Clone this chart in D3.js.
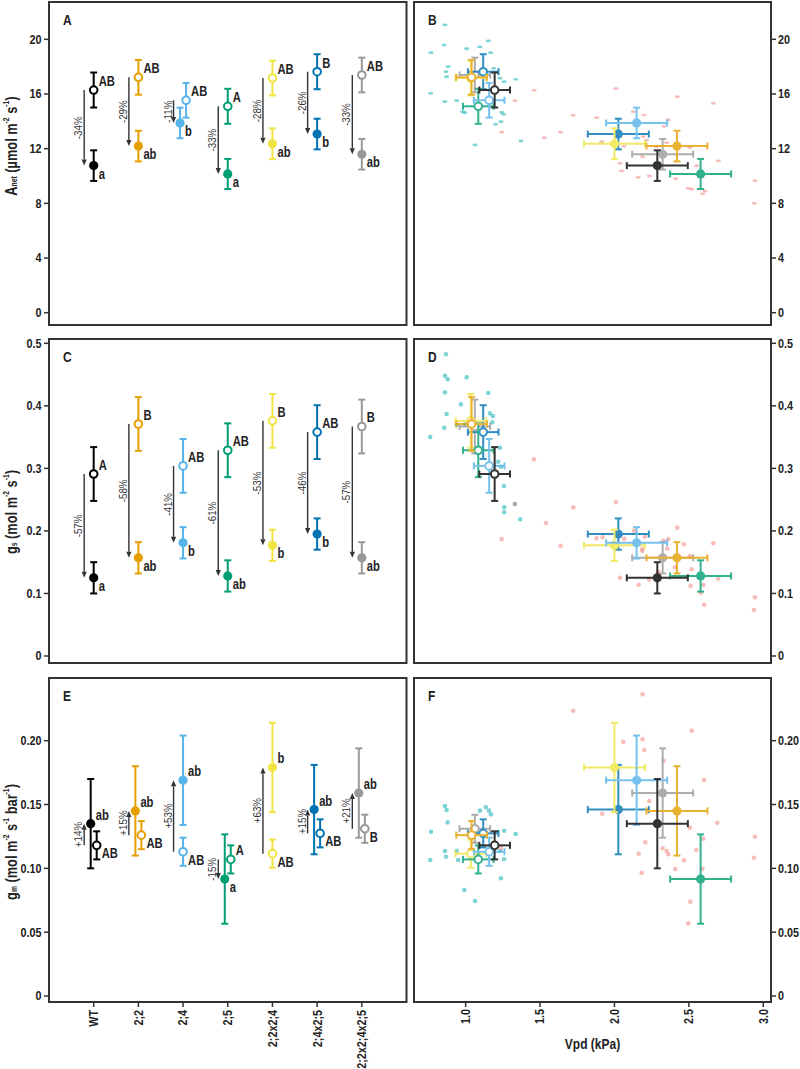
<!DOCTYPE html>
<html><head><meta charset="utf-8">
<script src="https://cdn.jsdelivr.net/npm/d3@7"></script>
<style>
body{margin:0;background:#fff}
svg{display:block}
</style></head><body>
<svg id="c" width="800" height="1069"></svg>
<script>
// ---------------- data ----------------
const categories = ["WT","2;2","2;4","2;5","2;2x2;4","2;4x2;5","2;2x2;4x2;5"];
const colors = ["#000000","#E69F00","#56B4E9","#009E73","#F0E442","#0072B2","#999999"];

// A: net assimilation (well-watered = open, drought = closed)
const anetWW   = [16.29, 17.22, 15.54, 15.10, 17.17, 17.63, 17.39];
const anetWWse = [1.28, 1.27, 1.27, 1.28, 1.27, 1.28, 1.27];
const anetWD   = [10.76, 12.19, 13.88, 10.15, 12.36, 13.07, 11.59];
const anetWDse = [1.12, 1.12, 1.12, 1.10, 1.13, 1.12, 1.12];
const anetLetWW = ["AB","AB","AB","A","AB","B","AB"];
const anetLetWD = ["a","ab","b","a","ab","b","ab"];
const anetPct   = ["-34%","-29%","-11%","-33%","-28%","-26%","-33%"];
const anetTicks = [0,4,8,12,16,20];

// C: stomatal conductance
const gsWW   = [0.291, 0.371, 0.304, 0.329, 0.376, 0.358, 0.367];
const gsWWse = [0.043, 0.043, 0.043, 0.043, 0.043, 0.043, 0.043];
const gsWD   = [0.125, 0.157, 0.181, 0.128, 0.177, 0.195, 0.157];
const gsWDse = [0.025, 0.025, 0.025, 0.025, 0.025, 0.025, 0.025];
const gsLetWW = ["A","B","AB","AB","B","AB","B"];
const gsLetWD = ["a","ab","b","ab","b","b","ab"];
const gsPct   = ["-57%","-58%","-41%","-61%","-53%","-46%","-57%"];
const gsTicks = [0,0.1,0.2,0.3,0.4,0.5];

// E: mesophyll conductance
const gmWW   = [0.118, 0.126, 0.113, 0.107, 0.1115, 0.1274, 0.131];
const gmWWse = [0.011, 0.011, 0.011, 0.011, 0.011, 0.011, 0.011];
const gmWD   = [0.135, 0.145, 0.169, 0.0916, 0.179, 0.146, 0.159];
const gmWDse = [0.035, 0.035, 0.035, 0.035, 0.035, 0.035, 0.035];
const gmLetWW = ["AB","AB","AB","A","AB","AB","B"];
const gmLetWD = ["ab","ab","ab","a","b","ab","ab"];
const gmPct   = ["+14%","+15%","+53%","-15%","+63%","+15%","+21%"];
const gmTicks = [0,0.05,0.10,0.15,0.20];

// Vpd group means
const vpdWW   = [1.195, 1.040, 1.158, 1.085, 1.035, 1.118, 1.062];
const vpdWWse = [0.103, 0.103, 0.103, 0.103, 0.103, 0.103, 0.103];
const vpdWD   = [2.288, 2.420, 2.149, 2.579, 2.000, 2.026, 2.324];
const vpdWDse = [0.205, 0.205, 0.205, 0.205, 0.205, 0.205, 0.205];
const vpdTicks = [1.0,1.5,2.0,2.5,3.0];

// raw points (B)
const bWetX = [0.861,0.856,0.767,1.007,1.096,1.152,1.168,0.883,0.868,0.872,0.765,0.861,0.940,0.980,0.995,1.188,1.231,1.259,1.336,1.242,1.255,1.202,1.237,1.063,1.372];
const bWetY = [21.05,19.58,19.02,19.31,19.44,19.88,19.02,18.0,17.63,17.26,16.05,15.44,15.51,14.70,14.63,17.88,17.15,16.90,17.07,14.66,14.51,13.78,13.97,12.27,12.56];
const bDryX = [1.461,1.331,1.242,1.528,2.010,2.422,2.664,1.723,1.880,1.638,2.126,2.198,2.362,2.333,2.194,2.216,1.914,2.064,2.284,2.351,2.507,2.552,2.698,2.189,2.037,2.048,2.160,2.234,2.411,2.496,2.519,2.608,2.593,2.944,2.940];
const bDryY = [16.27,15.51,13.20,12.80,16.39,15.80,15.32,14.44,14.27,13.20,14.70,14.46,14.10,13.63,12.88,12.63,12.51,12.17,12.14,12.44,12.07,10.75,11.10,11.41,10.93,10.37,9.90,10.0,9.80,9.10,9.03,8.90,8.70,9.66,8.0];
// raw points (D)
const dWetX = [0.868,0.861,0.879,1.007,0.861,1.152,0.968,0.872,1.163,1.183,0.856,0.762,1.179,0.940,0.995,1.231,1.219,1.237,1.257,1.259,1.259,1.367,1.331];
const dWetY = [0.4824,0.448,0.4424,0.4456,0.4216,0.4205,0.4024,0.3870,0.388,0.3838,0.365,0.350,0.3737,0.3694,0.3705,0.333,0.3107,0.3027,0.2718,0.2378,0.2298,0.2186,0.243];
const dDryX = [1.459,2.010,1.723,1.540,1.242,1.638,1.880,1.921,2.131,2.066,2.205,2.328,2.362,2.422,2.467,2.664,2.187,2.187,2.355,2.507,2.407,2.519,2.037,2.234,2.163,2.512,2.597,2.698,2.581,2.603,2.944,2.937,2.294,1.331];
const dDryY = [0.3145,0.2457,0.2378,0.2127,0.1871,0.1764,0.1882,0.1898,0.2004,0.1876,0.1908,0.1844,0.1871,0.2052,0.1786,0.1802,0.1711,0.168,0.1716,0.160,0.1418,0.1386,0.1252,0.1226,0.114,0.112,0.1135,0.1236,0.1012,0.082,0.0938,0.0736,0.1348,0.243];
// raw points (F)
const fWetX = [0.861,0.872,1.136,1.157,1.096,1.170,0.879,0.767,1.259,1.336,0.861,0.940,0.868,0.762,1.259,1.231,1.237,0.991,1.063,0.950];
const fWetY = [0.1488,0.1457,0.1478,0.1452,0.1452,0.1423,0.136,0.1287,0.1295,0.1269,0.1136,0.1138,0.1091,0.1065,0.1071,0.1136,0.0922,0.083,0.0744,0.1065];
const fDryX = [2.189,1.723,2.519,2.059,2.189,2.200,2.332,2.602,2.234,1.918,2.691,2.944,2.507,2.597,2.207,2.324,2.351,2.362,2.163,2.550,2.467,2.937,2.183,2.409,2.592,2.510,2.496,1.237];
const fDryY = [0.2363,0.2235,0.2078,0.1992,0.2011,0.1927,0.1843,0.1692,0.1527,0.1428,0.1357,0.1248,0.1318,0.1232,0.1204,0.1157,0.1136,0.111,0.1115,0.1144,0.1063,0.1083,0.0966,0.0995,0.0997,0.0739,0.0569,0.116];

// ---------------- layout ----------------
const FONT = '"Liberation Sans",Arial,sans-serif';
const svg = d3.select("#c").attr("font-family", FONT);
const L = {x0: 49, x1: 406.5}, R = {x0: 414, x1: 771};
const rows = [{y0: 2, y1: 325}, {y0: 339, y1: 663}, {y0: 678, y1: 1002}];
const FRAME = "#333";
const TXT = "#222";
const SX = 0.8; // condensed look

// condensed text helper
function T(parent, x, y, str, o = {}){
  const t = parent.append("text")
    .attr("transform", `translate(${x},${y}) rotate(${o.rot || 0}) scale(${o.sx || SX},1)`)
    .attr("font-size", o.size || 14).attr("font-weight", o.weight || "bold")
    .attr("text-anchor", o.anchor || "start").attr("fill", o.fill || TXT);
  if (o.baseline) t.attr("dominant-baseline", o.baseline);
  if (str !== null) t.text(str);
  return t;
}

function yTicks(scale, ticks, fmt, xAxis, side){
  const g = svg.append("g");
  ticks.forEach(v => {
    const py = scale(v);
    const x2 = side === "left" ? xAxis - 5 : xAxis + 5;
    g.append("line").attr("x1", xAxis).attr("x2", x2).attr("y1", py).attr("y2", py).attr("stroke", FRAME).attr("stroke-width", 1.5);
    if (side === "left") T(g, xAxis - 7.5, py, fmt(v), {anchor: "end", baseline: "central", size: 13.5});
    else T(g, xAxis + 7, py, fmt(v), {anchor: "start", baseline: "central", size: 13.5});
  });
}

function frame(x0, x1, row){
  svg.append("rect").attr("x", x0).attr("y", row.y0).attr("width", x1 - x0).attr("height", row.y1 - row.y0)
    .attr("fill", "none").attr("stroke", FRAME).attr("stroke-width", 2);
}
function panelLetter(x0, row, s){
  T(svg, x0 + 14, row.y0 + 23, s, {size: 15});
}

function leftPanel(o){
  const row = o.row;
  const y = d3.scaleLinear().domain(o.ydom).range([row.y1, row.y0]);
  const x = d3.scaleLinear().domain([0, categories.length + 1]).range([L.x0, L.x1]);
  yTicks(y, o.ticks, o.fmt, L.x0, "left");
  const g = svg.append("g");
  categories.forEach((c, i) => {
    const cx = x(i + 1);
    const ww = o.ww[i], wws = o.wwse[i], wd = o.wd[i], wds = o.wdse[i];
    const overlap = (ww - wws) < (wd + wds) && (wd - wds) < (ww + wws);
    const dg = overlap ? 3 : 0;
    const xWD = cx - dg, xWW = cx + dg;
    const col = colors[i];
    // arrow from well-watered to drought mean
    const ax = cx - 9.5, ys = y(ww), ye = y(wd);
    const dir = ye > ys ? 1 : -1;
    const hl = 6;
    g.append("line").attr("x1", ax).attr("x2", ax).attr("y1", ys).attr("y2", ye - dir * hl)
      .attr("stroke", "#333").attr("stroke-width", 1.4);
    g.append("path").attr("d", `M${ax},${ye} L${ax - 2.6},${ye - dir * hl} L${ax + 2.6},${ye - dir * hl} Z`).attr("fill", "#333");
    T(g, ax - 2, (ys + ye) / 2, o.pct[i], {rot: -90, anchor: "middle", size: 11.5, weight: "normal", fill: "#333", sx: 0.85});
    // error bars
    [[xWD, wd, wds], [xWW, ww, wws]].forEach(([px, m, s]) => {
      g.append("line").attr("x1", px).attr("x2", px).attr("y1", y(m - s)).attr("y2", y(m + s)).attr("stroke", col).attr("stroke-width", 2);
      [m - s, m + s].forEach(v => g.append("line").attr("x1", px - 3.5).attr("x2", px + 3.5).attr("y1", y(v)).attr("y2", y(v)).attr("stroke", col).attr("stroke-width", 2));
    });
    g.append("circle").attr("cx", xWD).attr("cy", y(wd)).attr("r", 4.6).attr("fill", col);
    g.append("circle").attr("cx", xWW).attr("cy", y(ww)).attr("r", 3.8).attr("fill", "#fff").attr("stroke", col).attr("stroke-width", 2);
    // letters
    T(g, xWW + 5, y(ww) + (ww > wd ? -8.5 : 8.5), o.letWW[i], {baseline: "central", size: 14});
    T(g, xWD + 5, y(wd) + (wd > ww ? -8.5 : 8.5), o.letWD[i], {baseline: "central", size: 14});
  });
  if (o.xlabels){
    const gx = svg.append("g");
    categories.forEach((c, i) => {
      gx.append("line").attr("x1", x(i + 1)).attr("x2", x(i + 1)).attr("y1", row.y1).attr("y2", row.y1 + 5).attr("stroke", FRAME).attr("stroke-width", 1.5);
      T(gx, x(i + 1), row.y1 + 8, c, {rot: -90, anchor: "end", baseline: "central", size: 13.5});
    });
  }
  // axis title
  const t = T(svg, 11, o.titleY, null, {rot: -90, anchor: "middle", baseline: "central", size: 16});
  o.title.forEach(p => {
    const ts = t.append("tspan").text(p.t);
    if (p.sub) ts.attr("font-size", 8.5).attr("dy", 3);
    if (p.sup) ts.attr("font-size", 8.5).attr("dy", -5.5);
    if (p.dy) ts.attr("dy", p.dy);
  });
  frame(L.x0, L.x1, row);
  panelLetter(L.x0, row, o.letter);
}

function rightPanel(o){
  const row = o.row;
  const y = d3.scaleLinear().domain(o.ydom).range([row.y1, row.y0]);
  const x = d3.scaleLinear().domain([0.653, 3.052]).range([R.x0, R.x1]);
  yTicks(y, o.ticks, o.fmt, R.x1, "right");
  const g = svg.append("g");
  const dot = (px, py, fill, op) => {
    if (o.dash) g.append("ellipse").attr("cx", px).attr("cy", py).attr("rx", 2.6).attr("ry", 1.4).attr("fill", fill).attr("opacity", op);
    else g.append("circle").attr("cx", px).attr("cy", py).attr("r", 2.3).attr("fill", fill).attr("opacity", op);
  };
  o.wetX.forEach((v, k) => dot(x(v), y(o.wetY[k]), "#2BB9BC", 0.62));
  o.dryX.forEach((v, k) => dot(x(v), y(o.dryY[k]), "#F07C78", 0.5));
  const gg = svg.append("g").attr("opacity", 0.8);
  for (let i = categories.length - 1; i >= 0; i--){
    const col = colors[i];
    [[vpdWD[i], vpdWDse[i], o.wd[i], o.wdse[i], true], [vpdWW[i], vpdWWse[i], o.ww[i], o.wwse[i], false]].forEach(([vx, sx, vy, sy, filled]) => {
      const px = x(vx), py = y(vy);
      gg.append("line").attr("x1", px).attr("x2", px).attr("y1", y(vy - sy)).attr("y2", y(vy + sy)).attr("stroke", col).attr("stroke-width", 2);
      [vy - sy, vy + sy].forEach(v => gg.append("line").attr("x1", px - 3.5).attr("x2", px + 3.5).attr("y1", y(v)).attr("y2", y(v)).attr("stroke", col).attr("stroke-width", 2));
      gg.append("line").attr("x1", x(vx - sx)).attr("x2", x(vx + sx)).attr("y1", py).attr("y2", py).attr("stroke", col).attr("stroke-width", 2);
      [vx - sx, vx + sx].forEach(v => gg.append("line").attr("x1", x(v)).attr("x2", x(v)).attr("y1", py - 3.5).attr("y2", py + 3.5).attr("stroke", col).attr("stroke-width", 2));
      if (filled) gg.append("circle").attr("cx", px).attr("cy", py).attr("r", 4.6).attr("fill", col);
      else gg.append("circle").attr("cx", px).attr("cy", py).attr("r", 3.8).attr("fill", "#fff").attr("stroke", col).attr("stroke-width", 2);
    });
  }
  if (o.xaxis){
    const gx = svg.append("g");
    vpdTicks.forEach(v => {
      gx.append("line").attr("x1", x(v)).attr("x2", x(v)).attr("y1", row.y1).attr("y2", row.y1 + 5).attr("stroke", FRAME).attr("stroke-width", 1.5);
      T(gx, x(v), row.y1 + 7, v.toFixed(1), {rot: -90, anchor: "end", baseline: "central", size: 13.5});
    });
    T(svg, (R.x0 + R.x1) / 2, 1049, "Vpd (kPa)", {anchor: "middle", size: 15});
  }
  frame(R.x0, R.x1, row);
  panelLetter(R.x0, row, o.letter);
}

const fmtA = d => String(d);
const fmtC = d => d === 0 ? "0" : d3.format(".1f")(d);
const fmtE = d => d === 0 ? "0" : d3.format(".2f")(d);
const domA = [-0.90, 22.73], domC = [-0.0112, 0.5069], domE = [-0.0047, 0.2491];

leftPanel({row: rows[0], ydom: domA, ticks: anetTicks, fmt: fmtA, ww: anetWW, wwse: anetWWse, wd: anetWD, wdse: anetWDse,
  letWW: anetLetWW, letWD: anetLetWD, pct: anetPct, letter: "A", titleY: 146,
  title: [{t: "A"}, {t: "net", sub: true}, {t: " (µmol m", dy: -3}, {t: "-2", sup: true}, {t: " s", dy: 5.5}, {t: "-1", sup: true}, {t: ")", dy: 5.5}]});
leftPanel({row: rows[1], ydom: domC, ticks: gsTicks, fmt: fmtC, ww: gsWW, wwse: gsWWse, wd: gsWD, wdse: gsWDse,
  letWW: gsLetWW, letWD: gsLetWD, pct: gsPct, letter: "C", titleY: 512,
  title: [{t: "g"}, {t: "s", sub: true}, {t: " (mol m", dy: -3}, {t: "-2", sup: true}, {t: " s", dy: 5.5}, {t: "-1", sup: true}, {t: ")", dy: 5.5}]});
leftPanel({row: rows[2], ydom: domE, ticks: gmTicks, fmt: fmtE, ww: gmWW, wwse: gmWWse, wd: gmWD, wdse: gmWDse,
  letWW: gmLetWW, letWD: gmLetWD, pct: gmPct, letter: "E", titleY: 842, xlabels: true,
  title: [{t: "g"}, {t: "m", sub: true}, {t: " (mol m", dy: -3}, {t: "-2", sup: true}, {t: " s", dy: 5.5}, {t: "-1", sup: true}, {t: " bar", dy: 5.5}, {t: "-1", sup: true}, {t: ")", dy: 5.5}]});

rightPanel({row: rows[0], ydom: domA, ticks: anetTicks, fmt: fmtA, ww: anetWW, wwse: anetWWse, wd: anetWD, wdse: anetWDse,
  wetX: bWetX, wetY: bWetY, dryX: bDryX, dryY: bDryY, letter: "B", dash: true});
rightPanel({row: rows[1], ydom: domC, ticks: gsTicks, fmt: fmtC, ww: gsWW, wwse: gsWWse, wd: gsWD, wdse: gsWDse,
  wetX: dWetX, wetY: dWetY, dryX: dDryX, dryY: dDryY, letter: "D"});
rightPanel({row: rows[2], ydom: domE, ticks: gmTicks, fmt: fmtE, ww: gmWW, wwse: gmWWse, wd: gmWD, wdse: gmWDse,
  wetX: fWetX, wetY: fWetY, dryX: fDryX, dryY: fDryY, letter: "F", xaxis: true});
</script>
</body></html>
